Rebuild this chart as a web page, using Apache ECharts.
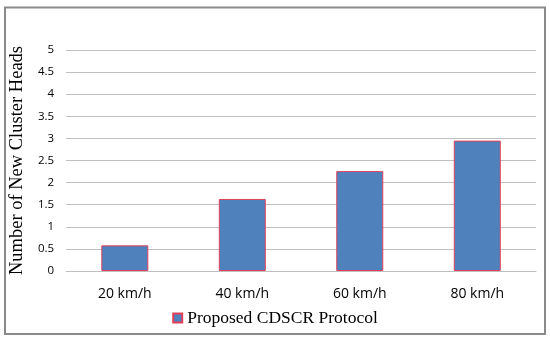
<!DOCTYPE html>
<html><head><meta charset="utf-8">
<script src="https://cdn.jsdelivr.net/npm/echarts@6/dist/echarts.min.js"></script>
<style>html,body{margin:0;padding:0;background:#fff}#c{width:550px;height:342px}</style>
</head><body><div id="c"></div>
<script>
const categories = ['20 km/h', '40 km/h', '60 km/h', '80 km/h'];
const seriesName = 'Proposed CDSCR Protocol';
const values = [0.58, 1.63, 2.26, 2.95];
const yTicks = {min: 0, max: 5, interval: 0.5};

const chart = echarts.init(document.getElementById('c'), null, {renderer: 'canvas'});
chart.setOption({
  animation: false,
  backgroundColor: '#fff',
  graphic: [{
    type: 'rect', shape: {x: 5, y: 7.5, width: 540, height: 326.5},
    style: {fill: 'none', stroke: '#8a8a8a', lineWidth: 2}, silent: true
  }],
  grid: {left: 64, right: 14, top: 50, bottom: 71, containLabel: false},
  xAxis: {
    type: 'category', data: categories,
    axisLine: {show: true, lineStyle: {color: '#bfbfbf'}},
    axisTick: {show: false},
    axisLabel: {color: '#000', fontFamily: 'Open Sans', fontSize: 14, margin: 16}
  },
  yAxis: {
    type: 'value', min: yTicks.min, max: yTicks.max, interval: yTicks.interval,
    name: 'Number of New Cluster Heads', nameLocation: 'middle', nameGap: 31,
    nameTextStyle: {fontFamily: 'Liberation Serif', fontSize: 18.5, color: '#000'},
    axisLine: {show: false}, axisTick: {show: false},
    axisLabel: {color: '#000', fontFamily: 'Open Sans', fontSize: 11.5, margin: 12},
    splitLine: {lineStyle: {color: '#bfbfbf', width: 1}}
  },
  legend: {
    bottom: 10, left: 'center', itemWidth: 9, itemHeight: 9, itemGap: 5,
    icon: 'rect',
    textStyle: {fontFamily: 'Liberation Serif', fontSize: 17.5, color: '#000'},
    data: [seriesName]
  },
  series: [{
    type: 'bar', name: seriesName, data: values, barWidth: '40%',
    itemStyle: {color: '#4F81BD', borderColor: '#E0405A', borderWidth: 1}
  }]
});
</script></body></html>
